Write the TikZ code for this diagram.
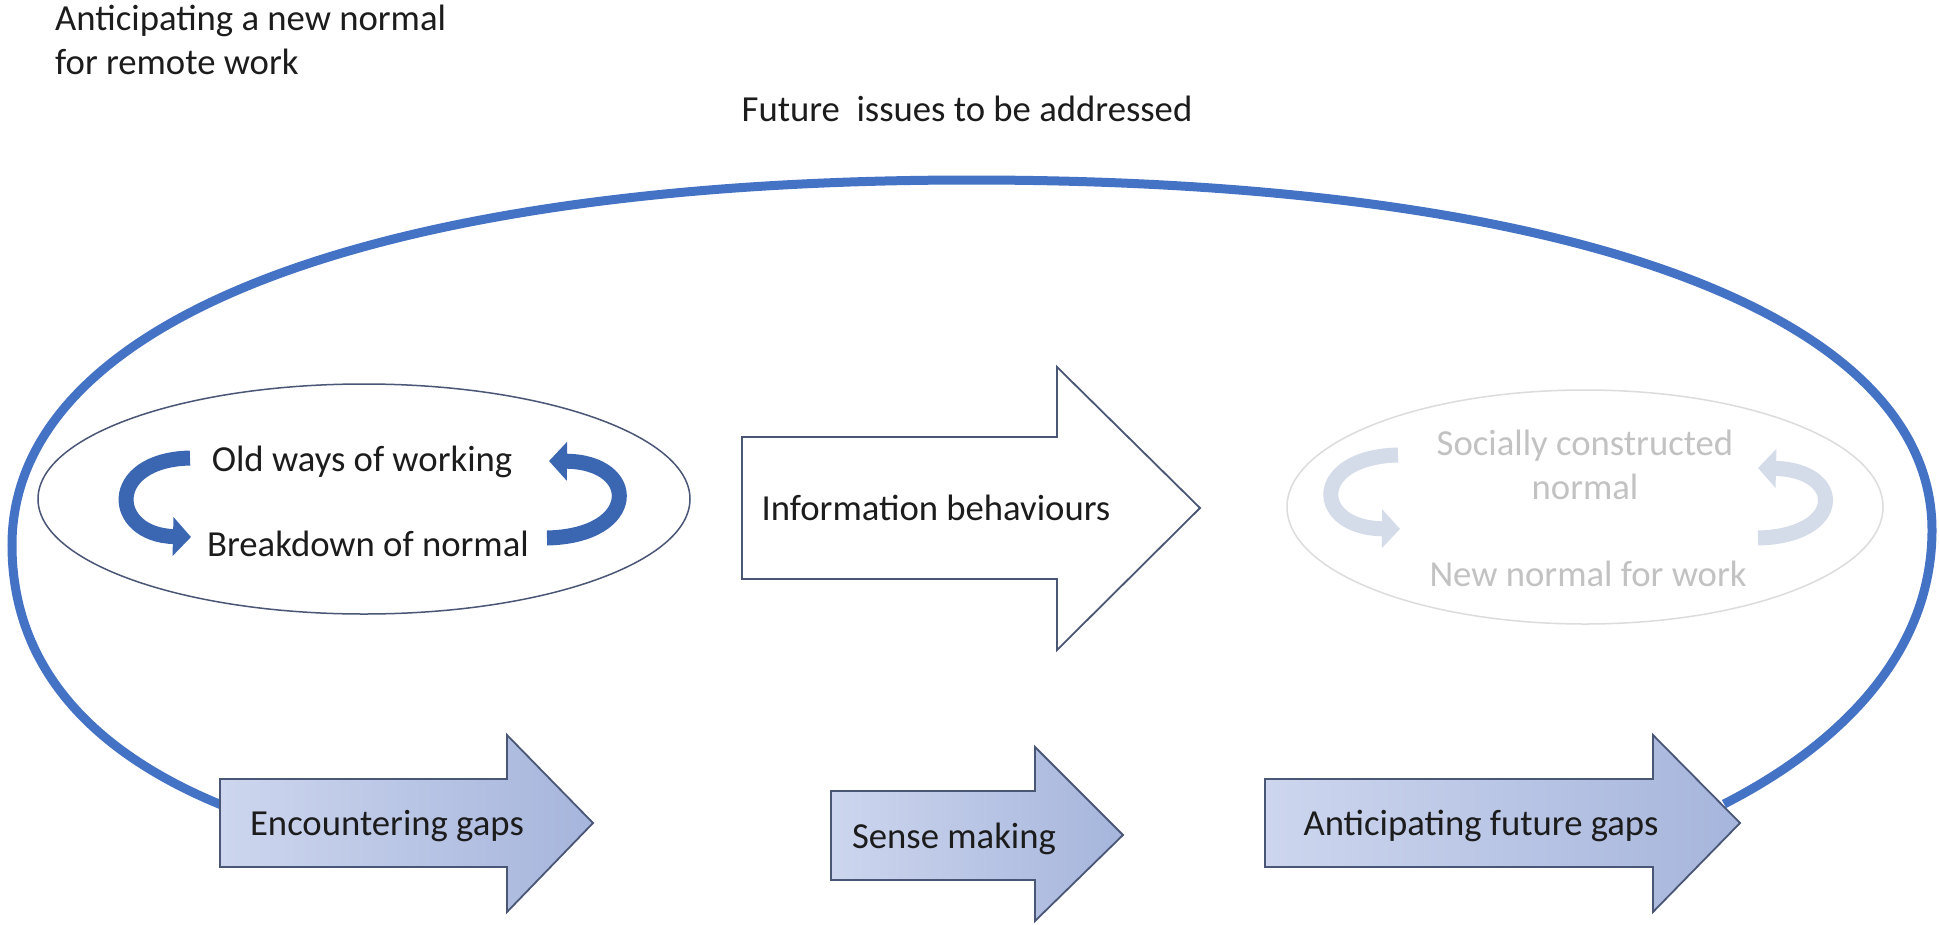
\documentclass[tikz,border=0pt]{standalone}
\usepackage{fontspec}
\setmainfont{Carlito}
\usetikzlibrary{arrows.meta}
\definecolor{loopblue}{HTML}{4472C4}
\definecolor{ribbon}{HTML}{3A66B2}
\definecolor{faded}{HTML}{D5DCE9}
\definecolor{fadeline}{HTML}{DCDCDC}
\definecolor{fadetext}{HTML}{C2C2C2}
\definecolor{edge}{HTML}{4A5676}
\definecolor{fillA}{HTML}{CDD6EE}
\definecolor{fillB}{HTML}{A6B5DC}
\definecolor{ink}{HTML}{1C1C1C}
\begin{document}
\begin{tikzpicture}[x=1pt,y=-1pt,
  txt/.style={font=\fontsize{36.7}{44}\selectfont,text=ink,inner sep=0pt,anchor=base},
  gaparrow/.style={draw=edge,line width=1.8,left color=fillA,right color=fillB},
  turn/.style={line width=15,draw=ribbon,-{Triangle[length=18pt,width=38pt]}}]
\useasboundingbox[fill=white] (0,0) rectangle (1939,924);
% title and heading
\node[txt,anchor=base west] (title1) at (55,30) {Anticipating a new normal};
\node[txt,anchor=base west] (title2) at (55,74) {for remote work};
\node[txt] (future) at (967,121) {Future\ \ issues to be addressed};
% big loop
\coordinate (enc tail) at (224,806);
\coordinate (ant head) at (1724,804);
\draw[loopblue,line width=9] (enc tail) .. controls (110,760) and (12,680) .. (12,545)
  .. controls (12,319) and (376,180) .. (971,180)
  .. controls (1567,180) and (1932,313) .. (1932,530)
  .. controls (1932,660) and (1830,750) .. (ant head);
% old normal
\draw[edge,line width=1.5] (364,499) ellipse (326 and 115);
\node[txt] (oldways) at (362,471) {Old ways of working};
\node[txt] (breakdown) at (368,556) {Breakdown of normal};
\draw[turn] (190,458) .. controls (105,460) and (110,535) .. (191,537);
\draw[turn] (547,538) .. controls (640,536) and (640,462) .. (549,461);
% information behaviours
\draw[edge,line width=1.8,fill=white] (742,437) -- (1057,437) -- (1057,367) -- (1200,508)
  -- (1057,650) -- (1057,579) -- (742,579) -- cycle;
\node[txt] (infobeh) at (936,520) {Information behaviours};
% new normal (faded)
\draw[fadeline,line width=1.5] (1585,507) ellipse (298 and 117);
\node[txt,text=fadetext] (social1) at (1585,455) {Socially constructed};
\node[txt,text=fadetext] (social2) at (1585,499) {normal};
\node[txt,text=fadetext] (newnormal) at (1588,586) {New normal for work};
\draw[turn,draw=faded] (1398,455) .. controls (1310,457) and (1312,528) .. (1400,529);
\draw[turn,draw=faded] (1758,538) .. controls (1845,536) and (1845,470) .. (1758,468);
% bottom row
\draw[gaparrow] (220,779) -- (507,779) -- (507,735) -- (593,823) -- (507,912) -- (507,867)
  -- (220,867) -- cycle;
\node[txt] (encgaps) at (387,835) {Encountering gaps};
\draw[gaparrow] (831,791) -- (1035,791) -- (1035,747) -- (1123,835) -- (1035,921) -- (1035,880)
  -- (831,880) -- cycle;
\node[txt] (sensemk) at (954,848) {Sense making};
\draw[gaparrow] (1265,779) -- (1653,779) -- (1653,735) -- (1740,823) -- (1653,912) -- (1653,867)
  -- (1265,867) -- cycle;
\node[txt] (antgaps) at (1481,835) {Anticipating future gaps};
\end{tikzpicture}
\end{document}
